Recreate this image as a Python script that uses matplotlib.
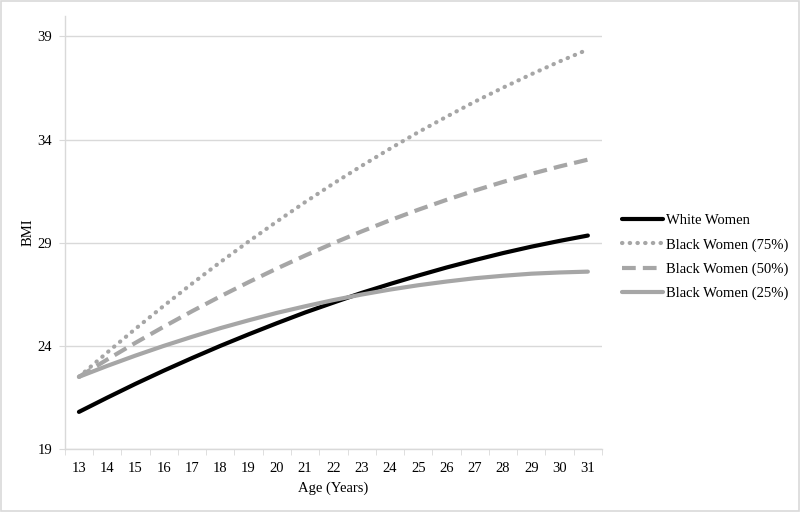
import matplotlib
matplotlib.use('Agg')
import matplotlib.pyplot as plt
from matplotlib.patches import Rectangle
from matplotlib.ticker import FixedLocator

plt.rcParams['font.family'] = ['Liberation Serif', 'DejaVu Serif']

ages = list(range(13, 32))
white_women = [20.80, 21.49, 22.16, 22.80, 23.41, 24.00, 24.56, 25.10, 25.62, 26.10,
               26.57, 27.00, 27.41, 27.80, 28.16, 28.50, 28.81, 29.09, 29.35]
black_75 = [22.50, 23.68, 24.83, 25.94, 27.02, 28.06, 29.06, 30.03, 30.97, 31.87,
            32.73, 33.56, 34.36, 35.11, 35.84, 36.52, 37.17, 37.79, 38.37]
black_50 = [22.50, 23.34, 24.15, 24.93, 25.68, 26.40, 27.09, 27.75, 28.38, 28.98,
            29.55, 30.09, 30.60, 31.08, 31.53, 31.95, 32.34, 32.70, 33.03]
black_25 = [22.50, 23.03, 23.53, 24.00, 24.44, 24.86, 25.24, 25.60, 25.92, 26.22,
            26.49, 26.73, 26.94, 27.12, 27.28, 27.40, 27.50, 27.56, 27.60]
y_ticks = [19, 24, 29, 34, 39]

gray = '#A6A6A6'
grid_col = '#D9D9D9'
fs = 10.5

fig = plt.figure(figsize=(8, 5.12), dpi=100)
ax = fig.add_axes([0.081, 0.123, 0.6715, 0.846])

pos = list(range(len(ages)))
ax.plot(pos, white_women, color='black', lw=3, label='White Women', solid_capstyle='round')
ax.plot(pos, black_75, color=gray, lw=3, linestyle=(0, (0.1, 1.75)),
        dash_capstyle='round', label='Black Women (75%)')
ax.plot(pos, black_50, color=gray, lw=3, linestyle=(0, (3.3, 1.7)),
        label='Black Women (50%)')
ax.plot(pos, black_25, color=gray, lw=3, label='Black Women (25%)', solid_capstyle='round')

ax.set_xlim(-0.5, len(ages) - 0.5)
ax.set_ylim(19, 40.0)
ax.set_yticks(y_ticks)
ax.set_yticklabels([str(v) for v in y_ticks])
ax.set_xticks(pos)
ax.set_xticklabels([str(a) for a in ages])
ax.xaxis.set_minor_locator(FixedLocator([p - 0.5 for p in range(len(ages) + 1)]))
ax.tick_params(axis='x', which='major', length=0, pad=9, labelsize=fs)
ax.tick_params(axis='x', which='minor', length=4, color=grid_col, direction='out')
ax.tick_params(axis='y', length=4, color=grid_col, pad=5, labelsize=fs)

ax.grid(axis='y', color=grid_col, lw=1)
ax.set_axisbelow(True)
for s in ['top', 'right']:
    ax.spines[s].set_visible(False)
for s in ['left', 'bottom']:
    ax.spines[s].set_color(grid_col)
    ax.spines[s].set_linewidth(1)

ax.set_xlabel('Age (Years)', fontsize=fs, labelpad=5)
ax.set_ylabel('BMI', fontsize=fs, labelpad=2)

ax.legend(loc='center left', bbox_to_anchor=(1.013, 0.443), frameon=False,
          fontsize=fs, handlelength=2.8, handletextpad=0.2, labelspacing=0.75)

fig.patches.append(Rectangle((0.001, 0.002), 0.998, 0.996, transform=fig.transFigure,
                             fill=False, edgecolor=grid_col, lw=1.2))

fig.savefig('out.png', dpi=100)
